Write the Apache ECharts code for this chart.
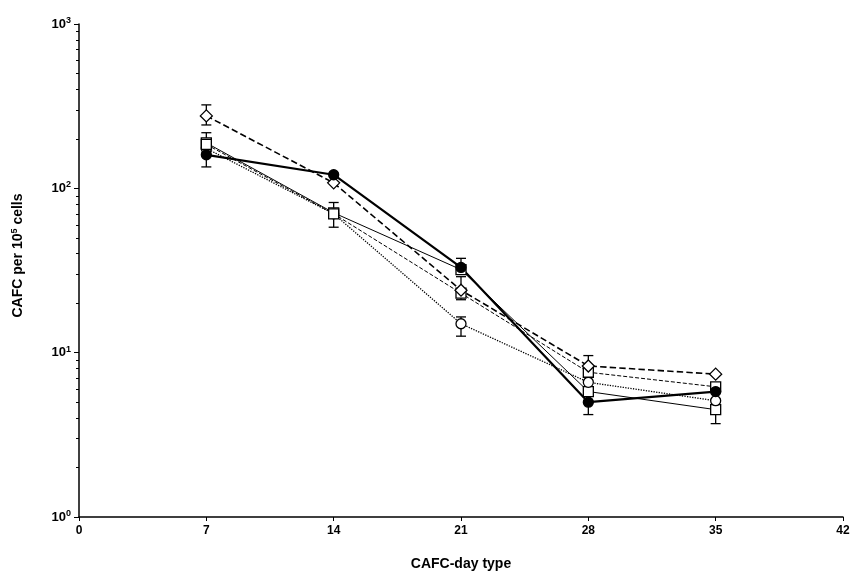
<!DOCTYPE html>
<html>
<head>
<meta charset="utf-8">
<script src="https://cdn.jsdelivr.net/npm/echarts@6/dist/echarts.min.js"></script>
<style>
  html, body { margin: 0; padding: 0; background: #fff; }
  #chart { width: 853px; height: 576px; }
</style>
</head>
<body>
<div id="chart"></div>
<script>
// CAFC-day types on the x axis
const days = [7, 14, 21, 28, 35]

// series values (CAFC per 10^5 cells)
const diamondVals = [276, 108, 24, 8.3, 7.4]
const filledVals = [160, 121, 33, 5.0, 5.8]
const squareVals = [189, 71, 32, 5.8, 4.5]
const circleVals = [175, 70, 15, 6.6, 5.1]
const dashSquareVals = [185, 70, 23, 7.6, 6.2]

// error bars: [day, low, high]
const diamondErr = [[7, 243, 322], [21, 21, 29], [28, 7.3, 9.6]]
const filledErr = [[7, 135, 175], [21, 30, 37.5], [28, 4.2, 5.5]]
const squareErr = [[7, 160, 218], [14, 58, 82], [35, 3.7, 5.2]]
const circleErr = [[21, 12.6, 16.5], [28, 5.9, 7.3]]

const yLabels = { 1: '0', 10: '1', 100: '2', 1000: '3' }

const chart = echarts.init(document.getElementById('chart'))

const pair = vals => days.map((d, i) => [d, vals[i]])

function lineSeries (vals, symbol, filled, lineType, width) {
  return {
    type: 'line',
    data: pair(vals),
    symbol: symbol,
    symbolSize: symbol === 'diamond' ? 12 : 10,
    lineStyle: { color: '#000', width: width, type: lineType },
    itemStyle: { color: filled ? '#000' : '#fff', borderColor: '#000', borderWidth: 1.3 },
    z: 3
  }
}

function errSeries (errs) {
  return {
    type: 'custom',
    data: errs,
    z: 2,
    renderItem (params, api) {
      const x = api.value(0)
      const lo = api.coord([x, api.value(1)])
      const hi = api.coord([x, api.value(2)])
      const w = 5
      const st = { stroke: '#000', lineWidth: 1.3 }
      return {
        type: 'group',
        children: [
          { type: 'line', shape: { x1: lo[0], y1: lo[1], x2: hi[0], y2: hi[1] }, style: st },
          { type: 'line', shape: { x1: lo[0] - w, y1: lo[1], x2: lo[0] + w, y2: lo[1] }, style: st },
          { type: 'line', shape: { x1: hi[0] - w, y1: hi[1], x2: hi[0] + w, y2: hi[1] }, style: st }
        ]
      }
    }
  }
}

const option = {
  backgroundColor: '#fff',
  animation: false,
  grid: { left: 79, right: 10, top: 24, bottom: 58 },
  xAxis: {
    type: 'value',
    min: 0,
    max: 42,
    interval: 7,
    name: 'CAFC-day type',
    nameLocation: 'middle',
    nameGap: 40,
    nameTextStyle: { fontFamily: 'Liberation Sans', fontWeight: 'bold', fontSize: 14, color: '#000' },
    axisLine: { lineStyle: { color: '#000', width: 1.5 } },
    axisTick: { lineStyle: { color: '#000' }, length: 4 },
    axisLabel: { fontFamily: 'Liberation Sans', fontWeight: 'bold', fontSize: 12, color: '#000', margin: 8 },
    splitLine: { show: false }
  },
  yAxis: {
    type: 'log',
    logBase: 10,
    min: 1,
    max: 1000,
    name: '{a|CAFC per 10}{s|5}{a| cells}',
    nameLocation: 'middle',
    nameRotate: 90,
    nameGap: 52,
    nameTextStyle: {
      padding: [0, 0, 0, 30],
      rich: {
        a: { fontFamily: 'Liberation Sans', fontWeight: 'bold', fontSize: 14, color: '#000' },
        s: { fontFamily: 'Liberation Sans', fontWeight: 'bold', fontSize: 9, color: '#000', verticalAlign: 'top', padding: [0, 0, 8, 0] }
      }
    },
    axisLine: { show: true, lineStyle: { color: '#000', width: 1.5 } },
    axisTick: { show: true, lineStyle: { color: '#000' }, length: 5 },
    minorTick: { show: true, splitNumber: 9, length: 3, lineStyle: { color: '#000' } },
    axisLabel: {
      margin: 8,
      formatter: v => '{b|10}{s|' + yLabels[Math.round(v)] + '}',
      rich: {
        b: { fontFamily: 'Liberation Sans', fontWeight: 'bold', fontSize: 13, color: '#000' },
        s: { fontFamily: 'Liberation Sans', fontWeight: 'bold', fontSize: 9, color: '#000', verticalAlign: 'top', padding: [0, 0, 7, 0] }
      }
    },
    splitLine: { show: false }
  },
  series: [
    errSeries(diamondErr),
    errSeries(filledErr),
    errSeries(squareErr),
    errSeries(circleErr),
    lineSeries(squareVals, 'rect', false, 'solid', 1),
    lineSeries(circleVals, 'circle', false, 'dotted', 1.3),
    lineSeries(dashSquareVals, 'rect', false, 'dashed', 1),
    lineSeries(diamondVals, 'diamond', false, 'dashed', 1.6),
    lineSeries(filledVals, 'circle', true, 'solid', 2.2)
  ]
}

chart.setOption(option)
</script>
</body>
</html>
